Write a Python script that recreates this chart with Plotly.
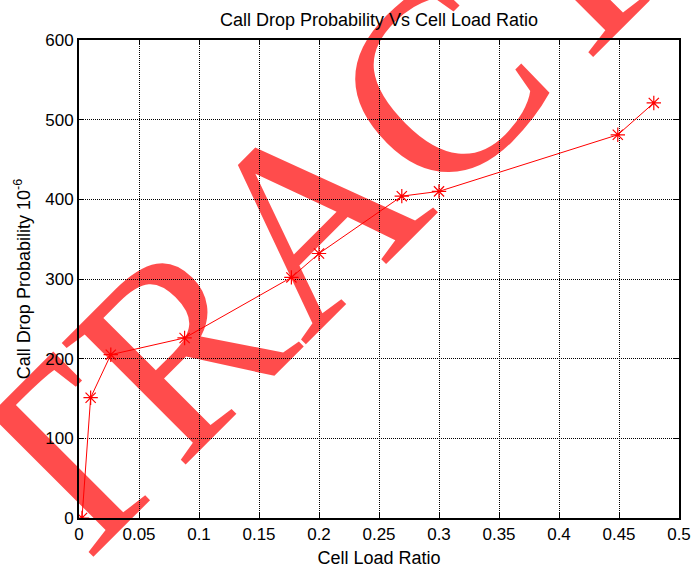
import plotly.graph_objects as go

load_ratio = [0.0025, 0.0097, 0.0265, 0.088, 0.177, 0.2, 0.269, 0.3, 0.449, 0.479]
drop_prob = [0, 151, 205, 226, 302, 332, 404, 410, 481, 521]

x_ticks = [0, 0.05, 0.1, 0.15, 0.2, 0.25, 0.3, 0.35, 0.4, 0.45, 0.5]
x_tick_text = ["0", "0.05", "0.1", "0.15", "0.2", "0.25", "0.3", "0.35", "0.4", "0.45", "0.5"]
y_ticks = [0, 100, 200, 300, 400, 500, 600]

title_text = "Call Drop Probability Vs Cell Load Ratio"
x_title = "Cell Load Ratio"
y_title = "Call Drop Probability 10<sup>-6</sup>"
watermark = "EXTRACT"

FONT = "Liberation Sans, Arial, sans-serif"

fig = go.Figure()
fig.add_trace(go.Scatter(
    x=load_ratio, y=drop_prob, mode="lines+markers",
    line=dict(color="#ff0000", width=1),
    marker=dict(symbol="asterisk-open", size=12, color="#ff0000",
                line=dict(color="#ff0000", width=1.2)),
    showlegend=False,
))

fig.add_shape(
    type="rect", xref="paper", yref="paper",
    x0=0.140, x1=0.140, y0=0.415, y1=0.415,
    line=dict(width=0), layer="below",
    label=dict(text=watermark, textangle=-45, textposition="middle center",
               font=dict(family="Liberation Serif, Times New Roman, serif",
                         size=265, color="rgba(255,0,0,0.7)")),
)

axis_common = dict(
    showline=True, linecolor="black", linewidth=2, mirror="ticks",
    ticks="inside", ticklen=5, tickcolor="black", tickwidth=1,
    showgrid=True, gridcolor="black", gridwidth=1.3, griddash="1px,1px",
    zeroline=False, tickfont=dict(family=FONT, size=17, color="black"),
)

fig.update_xaxes(range=[0, 0.5], tickvals=x_ticks, ticktext=x_tick_text,
                 title=dict(text=x_title, font=dict(family=FONT, size=18, color="black"), standoff=10),
                 **axis_common)
fig.update_yaxes(range=[0, 600], tickvals=y_ticks,
                 title=dict(text=y_title, font=dict(family=FONT, size=18, color="black"), standoff=10),
                 **axis_common)

fig.update_layout(
    width=691, height=568,
    margin=dict(l=79, r=12, t=40, b=50, autoexpand=False),
    paper_bgcolor="white", plot_bgcolor="rgba(0,0,0,0)",
    title=dict(text=title_text, x=0.5, xanchor="center", xref="paper",
               y=1 - 20 / 568, yanchor="middle",
               font=dict(family=FONT, size=18, color="black")),
)

fig.write_html("out.html", config={"displayModeBar": False},
               post_script="document.body.style.margin='0';")
